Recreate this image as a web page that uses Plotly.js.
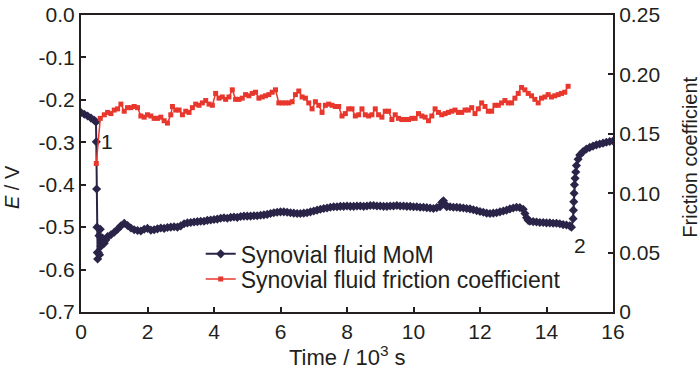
<!DOCTYPE html>
<html>
<head>
<meta charset="utf-8">
<script src="https://cdn.plot.ly/plotly-3.0.1.min.js"></script>
<style>html,body{margin:0;padding:0;background:#fff;}#chart{width:700px;height:369px;}</style>
</head>
<body>
<div id="chart"></div>
<script>
// Synovial fluid MoM potential (left axis, V) vs time (10^3 s)
const mom_t = [0.0,0.1,0.2,0.3,0.4,0.45,0.46,0.47,0.48,0.49,0.50,0.52,0.54,0.56,0.58,0.60,0.65,0.70,0.75,0.80,0.9,1.0,1.1,1.2,1.3,1.4,1.5,1.6,1.7,1.8,1.9,2.0,2.1,2.2,2.3,2.4,2.5,2.6,2.7,2.8,2.9,3.0,3.1,3.2,3.3,3.4,3.5,3.6,3.7,3.8,3.9,4.0,4.1,4.2,4.3,4.4,4.5,4.6,4.7,4.8,4.9,5.0,5.1,5.2,5.3,5.4,5.5,5.6,5.7,5.8,5.9,6.0,6.1,6.2,6.3,6.4,6.5,6.6,6.7,6.8,6.9,7.0,7.1,7.2,7.3,7.4,7.5,7.6,7.7,7.8,7.9,8.0,8.1,8.2,8.3,8.4,8.5,8.6,8.7,8.8,8.9,9.0,9.1,9.2,9.3,9.4,9.5,9.6,9.7,9.8,9.9,10.0,10.1,10.2,10.3,10.4,10.5,10.6,10.7,10.8,10.85,10.9,10.95,11.0,11.1,11.2,11.3,11.4,11.5,11.6,11.7,11.8,11.9,12.0,12.1,12.2,12.3,12.4,12.5,12.6,12.7,12.8,12.9,13.0,13.1,13.2,13.3,13.35,13.4,13.45,13.5,13.6,13.7,13.8,13.9,14.0,14.1,14.2,14.3,14.4,14.5,14.6,14.7,14.75,14.8,14.81,14.82,14.83,14.84,14.86,14.88,14.9,14.95,15.0,15.1,15.2,15.3,15.4,15.5,15.6,15.7,15.8,15.9,16.0];
const mom_E = [-0.230,-0.234,-0.238,-0.243,-0.248,-0.252,-0.299,-0.410,-0.500,-0.560,-0.575,-0.560,-0.520,-0.565,-0.505,-0.545,-0.526,-0.538,-0.530,-0.522,-0.518,-0.512,-0.505,-0.497,-0.491,-0.496,-0.502,-0.506,-0.508,-0.509,-0.505,-0.503,-0.507,-0.506,-0.504,-0.502,-0.503,-0.501,-0.500,-0.499,-0.500,-0.497,-0.492,-0.490,-0.489,-0.488,-0.487,-0.486,-0.486,-0.484,-0.483,-0.482,-0.481,-0.479,-0.478,-0.479,-0.477,-0.476,-0.477,-0.475,-0.474,-0.474,-0.474,-0.473,-0.473,-0.472,-0.471,-0.470,-0.468,-0.466,-0.465,-0.464,-0.464,-0.465,-0.466,-0.467,-0.468,-0.468,-0.467,-0.466,-0.464,-0.462,-0.460,-0.458,-0.456,-0.455,-0.453,-0.452,-0.452,-0.451,-0.451,-0.450,-0.451,-0.451,-0.450,-0.450,-0.451,-0.450,-0.449,-0.449,-0.450,-0.450,-0.451,-0.451,-0.450,-0.450,-0.449,-0.450,-0.450,-0.451,-0.451,-0.452,-0.452,-0.453,-0.453,-0.454,-0.455,-0.456,-0.454,-0.452,-0.442,-0.438,-0.446,-0.452,-0.452,-0.453,-0.453,-0.454,-0.455,-0.456,-0.457,-0.459,-0.461,-0.463,-0.465,-0.467,-0.468,-0.467,-0.466,-0.464,-0.462,-0.460,-0.457,-0.455,-0.453,-0.454,-0.458,-0.468,-0.478,-0.484,-0.486,-0.487,-0.488,-0.489,-0.489,-0.490,-0.490,-0.491,-0.491,-0.492,-0.494,-0.495,-0.497,-0.500,-0.480,-0.460,-0.440,-0.420,-0.400,-0.385,-0.370,-0.355,-0.340,-0.330,-0.322,-0.316,-0.312,-0.309,-0.306,-0.304,-0.302,-0.300,-0.298,-0.297];

// Synovial fluid friction coefficient (right axis) vs time (10^3 s)
const fric_t = [0.46,0.58,0.70,0.80,0.90,1.00,1.10,1.20,1.30,1.40,1.50,1.60,1.70,1.80,1.90,2.00,2.10,2.20,2.30,2.40,2.50,2.60,2.70,2.75,2.85,2.95,3.05,3.15,3.25,3.35,3.45,3.55,3.65,3.75,3.85,3.95,4.05,4.15,4.25,4.35,4.45,4.55,4.65,4.75,4.85,4.95,5.05,5.15,5.25,5.35,5.45,5.55,5.65,5.75,5.85,5.95,6.05,6.15,6.25,6.35,6.45,6.55,6.65,6.75,6.85,6.95,7.05,7.15,7.25,7.35,7.45,7.55,7.65,7.75,7.85,7.95,8.05,8.15,8.25,8.35,8.45,8.55,8.65,8.75,8.85,8.95,9.05,9.15,9.25,9.35,9.45,9.55,9.65,9.75,9.85,9.95,10.05,10.15,10.25,10.35,10.45,10.55,10.65,10.75,10.85,10.95,11.05,11.15,11.25,11.35,11.45,11.55,11.65,11.75,11.85,11.95,12.05,12.15,12.25,12.35,12.45,12.55,12.65,12.75,12.85,12.95,13.05,13.15,13.25,13.35,13.45,13.55,13.65,13.75,13.85,13.95,14.05,14.15,14.25,14.35,14.45,14.55,14.65];
const fric_f = [0.125,0.163,0.166,0.168,0.167,0.170,0.171,0.175,0.169,0.172,0.172,0.173,0.172,0.165,0.164,0.166,0.165,0.163,0.163,0.164,0.161,0.159,0.166,0.173,0.170,0.170,0.166,0.169,0.168,0.172,0.175,0.174,0.176,0.178,0.175,0.174,0.184,0.180,0.181,0.179,0.181,0.187,0.179,0.179,0.180,0.183,0.182,0.184,0.185,0.180,0.181,0.182,0.183,0.185,0.187,0.176,0.176,0.176,0.176,0.177,0.183,0.186,0.181,0.180,0.176,0.171,0.177,0.174,0.168,0.174,0.175,0.174,0.173,0.173,0.165,0.167,0.171,0.171,0.165,0.166,0.171,0.166,0.165,0.166,0.171,0.166,0.164,0.169,0.169,0.162,0.166,0.163,0.162,0.162,0.162,0.163,0.163,0.167,0.165,0.164,0.161,0.165,0.171,0.168,0.166,0.167,0.168,0.169,0.170,0.168,0.168,0.170,0.170,0.172,0.167,0.171,0.176,0.173,0.169,0.169,0.174,0.174,0.176,0.178,0.176,0.176,0.180,0.184,0.189,0.187,0.184,0.182,0.179,0.176,0.180,0.181,0.183,0.181,0.182,0.183,0.184,0.185,0.190];

// Tick values / labels
const xTicks = [0,2,4,6,8,10,12,14,16];
const yTickVals = [0,-0.1,-0.2,-0.3,-0.4,-0.5,-0.6,-0.7];
const yTickText = ['0.0','-0.1','-0.2','-0.3','-0.4','-0.5','-0.6','-0.7'];
const y2TickVals = [0,0.05,0.10,0.15,0.20,0.25];
const y2TickText = ['0','0.05','0.10','0.15','0.20','0.25'];

const seriesNames = ['Synovial fluid MoM','Synovial fluid friction coefficient'];
const pointLabels = [{t:0.78,E:-0.299,text:'1'},{t:15.0,E:-0.5425,text:'2'}];

const FONT = 'Arial, "Liberation Sans", sans-serif';
const INK = '#231f20';
const BLUE = '#2a2448';
const RED = '#e8372d';

const traces = [
  {
    x: mom_t, y: mom_E, type: 'scatter', mode: 'lines+markers',
    name: seriesNames[0], legend: 'legend',
    line: {color: BLUE, width: 2},
    marker: {color: BLUE, symbol: 'diamond', size: 7},
    xaxis: 'x', yaxis: 'y'
  },
  {
    x: fric_t, y: fric_f, type: 'scatter', mode: 'lines+markers',
    name: seriesNames[1], legend: 'legend2',
    line: {color: RED, width: 1.5},
    marker: {color: RED, symbol: 'square', size: 5},
    xaxis: 'x', yaxis: 'y2'
  }
];

const annotations = pointLabels.map(p => ({
  x: p.t, y: p.E, xref: 'x', yref: 'y', text: p.text, showarrow: false,
  font: {family: FONT, size: 21, color: INK}, xanchor: 'center', yanchor: 'middle'
}));
annotations.push(
  {x: 0.5, y: -0.147, xref: 'paper', yref: 'paper', text: 'Time / 10<sup>3</sup> s', showarrow: false,
   font: {family: FONT, size: 22, color: INK}, xanchor: 'center', yanchor: 'middle'},
  {x: -0.13, y: 0.42, xref: 'paper', yref: 'paper', text: '<i>E</i> / V', showarrow: false, textangle: -90,
   font: {family: FONT, size: 20, color: INK}, xanchor: 'center', yanchor: 'middle'},
  {x: 1.143, y: 0.52, xref: 'paper', yref: 'paper', text: 'Friction coefficient', showarrow: false, textangle: -90,
   font: {family: FONT, size: 20, color: INK}, xanchor: 'center', yanchor: 'middle'}
);

const legendBase = {
  xref: 'paper', yref: 'paper', xanchor: 'left', yanchor: 'top',
  bgcolor: 'rgba(0,0,0,0)', borderwidth: 0,
  font: {family: FONT, size: 23, color: INK}
};

const layout = {
  width: 700, height: 369,
  margin: {l: 81, r: 87, t: 15, b: 57, pad: 0},
  paper_bgcolor: '#fff', plot_bgcolor: '#fff',
  font: {family: FONT, size: 21, color: INK},
  showlegend: true,
  legend: Object.assign({}, legendBase, {x: 0.225, y: 0.268}),
  legend2: Object.assign({}, legendBase, {x: 0.225, y: 0.183}),
  xaxis: {
    range: [0, 16], tickvals: xTicks, ticks: 'inside', ticklen: 5, tickwidth: 2, tickcolor: INK,
    showline: true, linecolor: INK, linewidth: 2, mirror: true, showgrid: false, zeroline: false,
    tickfont: {family: FONT, size: 21, color: INK}
  },
  yaxis: {
    range: [-0.7, 0], tickvals: yTickVals, ticktext: yTickText, ticks: 'inside', ticklen: 5, tickwidth: 2, tickcolor: INK,
    showline: true, linecolor: INK, linewidth: 2, showgrid: false, zeroline: false,
    tickfont: {family: FONT, size: 21, color: INK}
  },
  yaxis2: {
    range: [0, 0.25], tickvals: y2TickVals, ticktext: y2TickText, overlaying: 'y', side: 'right',
    ticks: 'inside', ticklen: 5, tickwidth: 2, tickcolor: INK,
    showline: true, linecolor: INK, linewidth: 2, showgrid: false, zeroline: false,
    tickfont: {family: FONT, size: 21, color: INK}
  },
  annotations: annotations
};

Plotly.newPlot('chart', traces, layout, {displayModeBar: false, staticPlot: true});
</script>
</body>
</html>
